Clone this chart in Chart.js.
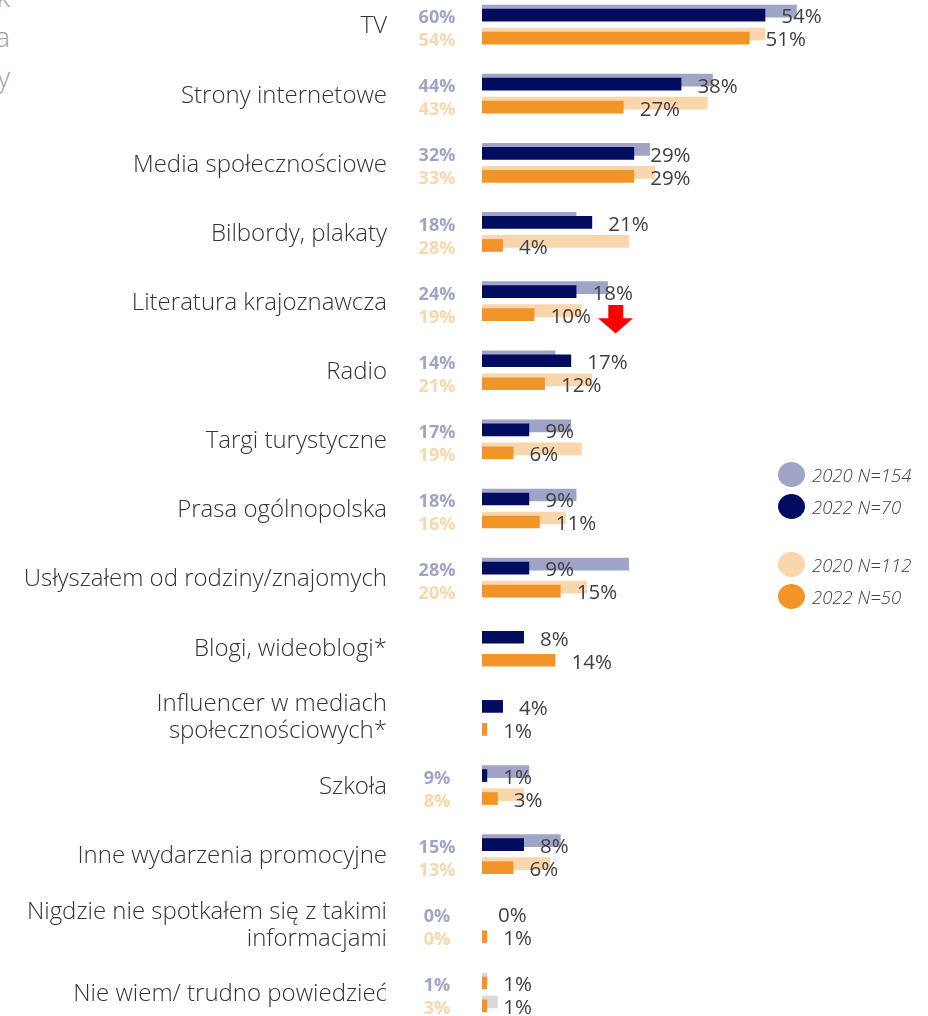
<!DOCTYPE html>
<html><head><meta charset="utf-8">
<script src="https://cdn.jsdelivr.net/npm/chart.js@4.4.1/dist/chart.umd.min.js"></script>
<style>
html,body{margin:0;padding:0;background:#fff;width:928px;height:1016px;overflow:hidden;position:relative;font-family:'Open Sans',sans-serif;}
#frag{position:absolute;left:-190px;top:-24px;width:200px;text-align:right;font-size:28px;line-height:40px;color:#a0a0a0;font-weight:300;}
#wrap{position:absolute;left:0;top:-10px;width:928px;height:1037px;}
#legend{position:absolute;left:0;top:0;width:928px;height:1016px;pointer-events:none;}
.li{position:absolute;left:778px;height:30px;display:flex;align-items:center;white-space:nowrap;}
.dot{width:27px;height:25px;border-radius:50%;margin-right:7px;flex:none;}
.lt{font-style:italic;font-weight:300;font-size:18.5px;color:#404040;}
#arrow{position:absolute;left:598px;top:305px;}
</style></head>
<body>
<div id="frag">k<br>a<br>y</div>
<div id="wrap"><canvas id="c"></canvas></div>
<div id="legend"></div>
<svg id="arrow" width="36" height="29" viewBox="0 0 36 29"><polygon points="10.3,0 25.3,0 25.3,13.3 35,13.3 17.6,28.5 0,13.3 10.3,13.3" fill="#ff0000"/></svg>
<script>
const categories = [
  'TV',
  'Strony internetowe',
  'Media społecznościowe',
  'Bilbordy, plakaty',
  'Literatura krajoznawcza',
  'Radio',
  'Targi turystyczne',
  'Prasa ogólnopolska',
  'Usłyszałem od rodziny/znajomych',
  'Blogi, wideoblogi*',
  ['Influencer w mediach', 'społecznościowych*'],
  'Szkoła',
  'Inne wydarzenia promocyjne',
  ['Nigdzie nie spotkałem się z takimi', 'informacjami'],
  'Nie wiem/ trudno powiedzieć'
];
const seriesLabels = ['2020 N=154', '2022 N=70', '2020 N=112', '2022 N=50'];
const blue2020 = [60, 44, 32, 18, 24, 14, 17, 18, 28, null, null, 9, 15, 0, 1];
const navy2022 = [54, 38, 29, 21, 18, 17, 9, 9, 9, 8, 4, 1, 8, 0, 1];
const peach2020 = [54, 43, 33, 28, 19, 21, 19, 16, 20, null, null, 8, 13, 0, 3];
const orange2022 = [51, 27, 29, 4, 10, 12, 6, 11, 15, 14, 1, 3, 6, 1, 1];

const C_LB = '#a0a4c7', C_NAVY = '#020c5f', C_LO = '#f9d6ac', C_OR = '#f29528', C_GREY = '#d9d9d9';
const lastIdx = categories.length - 1;
const withLast = (base, last) => categories.map((_, i) => i === lastIdx ? last : base);

// legend (HTML)
const legendItems = [
  {t: seriesLabels[0], c: C_LB, y: 474},
  {t: seriesLabels[1], c: C_NAVY, y: 506},
  {t: seriesLabels[2], c: C_LO, y: 564},
  {t: seriesLabels[3], c: C_OR, y: 596}
];
const lg = document.getElementById('legend');
legendItems.forEach(it => {
  const d = document.createElement('div');
  d.className = 'li';
  d.style.top = (it.y - 15) + 'px';
  d.innerHTML = '<span class="dot" style="background:' + it.c + '"></span><span class="lt">' + it.t + '</span>';
  lg.appendChild(d);
});

const shiftPlugin = {
  id: 'shift',
  afterDatasetsUpdate(chart) {
    chart.data.datasets.forEach((ds, i) => {
      const meta = chart.getDatasetMeta(i);
      meta.data.forEach(el => { el.y += ds.shiftY || 0; });
    });
  }
};

const labelPlugin = {
  id: 'vlabels',
  afterDatasetsDraw(chart) {
    const ctx = chart.ctx;
    const left = chart.chartArea.left;
    ctx.save();
    // 2022 values at bar ends
    ctx.textAlign = 'left';
    ctx.textBaseline = 'middle';
    ctx.font = '400 20.5px "Open Sans"';
    ctx.fillStyle = '#404040';
    [0, 1].forEach(di => {
      const ds = chart.data.datasets[di];
      chart.getDatasetMeta(di).data.forEach((el, i) => {
        const v = ds.data[i];
        if (v == null) return;
        ctx.fillText(v + '%', el.x + 16, el.y + 2.5);
      });
    });
    // 2020 values at left
    ctx.textAlign = 'center';
    ctx.font = '700 18px "Open Sans"';
    [2, 3].forEach(di => {
      const ds = chart.data.datasets[di];
      ctx.fillStyle = ds.textColor;
      chart.getDatasetMeta(di).data.forEach((el, i) => {
        const v = ds.data[i];
        if (v == null) return;
        ctx.fillText(v + '%', left - 45, el.y + 7);
      });
    });
    ctx.restore();
  }
};

const barCommon = {barPercentage: 0.552, categoryPercentage: 0.6657, borderWidth: 0, borderSkipped: false};

new Chart(document.getElementById('c'), {
  type: 'bar',
  data: {
    labels: categories,
    datasets: [
      Object.assign({label: seriesLabels[1], data: navy2022, stack: 'upper', backgroundColor: withLast(C_NAVY, C_OR), shiftY: 2}, barCommon),
      Object.assign({label: seriesLabels[3], data: orange2022, stack: 'lower', backgroundColor: withLast(C_OR, C_OR), shiftY: 2}, barCommon),
      Object.assign({label: seriesLabels[0], data: blue2020, stack: 'upper', backgroundColor: withLast(C_LB, C_GREY), textColor: C_LB, shiftY: -2}, barCommon),
      Object.assign({label: seriesLabels[2], data: peach2020, stack: 'lower', backgroundColor: withLast(C_LO, C_GREY), textColor: C_LO, shiftY: -2}, barCommon)
    ]
  },
  options: {
    indexAxis: 'y',
    responsive: true,
    maintainAspectRatio: false,
    animation: false,
    events: [],
    layout: {padding: 0},
    plugins: {legend: {display: false}, tooltip: {enabled: false}},
    scales: {
      x: {type: 'linear', min: 0, max: 85, display: false, stacked: false},
      y: {
        type: 'category', position: 'left',
        grid: {display: false, drawTicks: false},
        border: {display: false},
        ticks: {autoSkip: false, padding: 95, labelOffset: 2, color: '#333333', font: {family: 'Open Sans', size: 24, weight: 300, lineHeight: 1.13}},
        afterFit: s => { s.width = 482; s.paddingTop = 0; s.paddingBottom = 0; }
      }
    }
  },
  plugins: [shiftPlugin, labelPlugin]
});
</script>
</body></html>
